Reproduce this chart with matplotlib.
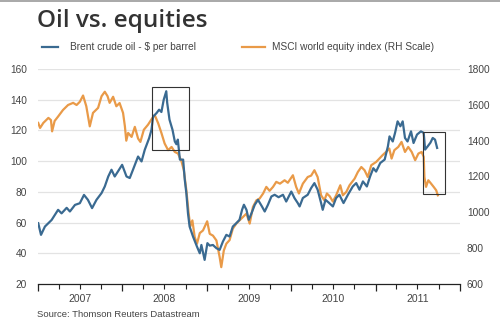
import matplotlib
matplotlib.use("Agg")
import matplotlib.pyplot as plt
import matplotlib.dates as mdates
from matplotlib.patches import Rectangle
from matplotlib.lines import Line2D
import pandas as pd

plt.rcParams['font.family'] = ['Liberation Sans', 'DejaVu Sans']

# Brent crude oil, $ per barrel (left scale)
oil_dates = [
    "2007-01-02", "2007-01-14", "2007-01-31", "2007-03-01", "2007-03-29", "2007-04-13",
    "2007-05-05", "2007-05-19", "2007-06-10", "2007-07-01", "2007-07-19", "2007-08-05",
    "2007-08-23", "2007-09-11", "2007-10-03", "2007-10-17", "2007-11-01", "2007-11-15",
    "2007-11-29", "2007-12-13", "2007-12-31", "2008-01-19", "2008-02-02", "2008-02-16",
    "2008-03-09", "2008-03-24", "2008-04-07", "2008-04-26", "2008-05-06", "2008-05-13",
    "2008-05-28", "2008-06-08", "2008-06-18", "2008-06-28", "2008-07-09", "2008-07-13",
    "2008-07-23", "2008-08-05", "2008-08-15", "2008-08-22", "2008-08-28", "2008-09-06",
    "2008-09-20", "2008-09-27", "2008-10-04", "2008-10-11", "2008-10-18", "2008-11-02",
    "2008-11-19", "2008-12-01", "2008-12-08", "2008-12-22", "2009-01-03", "2009-01-13",
    "2009-01-27", "2009-02-11", "2009-02-25", "2009-03-11", "2009-03-26", "2009-04-09",
    "2009-04-23", "2009-05-08", "2009-05-22", "2009-06-02", "2009-06-10", "2009-06-21",
    "2009-07-01", "2009-07-13", "2009-07-27", "2009-08-10", "2009-08-27", "2009-09-08",
    "2009-09-22", "2009-10-07", "2009-10-21", "2009-11-07", "2009-11-26", "2009-12-10",
    "2010-01-01", "2010-01-15", "2010-01-29", "2010-02-06", "2010-02-20", "2010-03-13",
    "2010-03-28", "2010-04-11", "2010-04-25", "2010-05-10", "2010-05-17", "2010-05-29",
    "2010-06-12", "2010-06-30", "2010-07-14", "2010-07-28", "2010-08-15", "2010-09-03",
    "2010-09-24", "2010-10-09", "2010-10-23", "2010-11-07", "2010-11-24", "2010-12-08",
    "2010-12-22", "2011-01-03", "2011-01-21", "2011-02-09", "2011-02-23", "2011-03-02",
    "2011-03-16", "2011-03-26", "2011-04-06", "2011-04-18", "2011-04-28", "2011-05-08",
    "2011-05-19", "2011-06-03", "2011-06-14", "2011-06-29", "2011-07-16", "2011-07-28",
    "2011-08-03", "2011-08-14", "2011-08-26", "2011-09-05", "2011-09-15", "2011-09-24",
]
oil_price = [
    59.6, 52.0, 57.4, 61.7, 68.3, 66.0,
    69.6, 67.2, 71.5, 72.6, 78.0, 74.8,
    69.4, 74.8, 79.2, 83.5, 90.0, 94.4,
    90.0, 93.3, 97.6, 90.0, 89.0, 94.4,
    103.0, 99.8, 107.4, 115.0, 120.4, 129.0,
    131.3, 133.5, 132.0, 140.0, 145.5, 138.0,
    127.0, 120.4, 112.8, 111.0, 114.0, 101.0,
    101.0, 88.0, 79.0, 66.0, 57.4, 50.8,
    44.3, 40.0, 45.4, 35.7, 46.6, 45.0,
    45.4, 43.3, 42.2, 47.6, 52.0, 50.9,
    57.4, 59.6, 61.8, 68.3, 71.6, 68.3,
    61.8, 66.1, 71.6, 74.8, 70.5, 67.2,
    71.6, 77.0, 78.1, 76.5, 78.1, 73.7,
    80.2, 75.9, 72.7, 70.5, 76.0, 78.1,
    82.5, 85.7, 81.4, 72.7, 68.3, 74.8,
    73.0, 70.5, 76.0, 78.1, 72.7, 78.1,
    83.5, 85.7, 81.4, 86.8, 83.5, 90.0,
    95.4, 93.2, 98.8, 101.0, 109.6, 116.1,
    112.8, 118.4, 125.9, 122.7, 125.9, 115.1,
    112.8, 119.4, 111.8, 117.3, 119.4, 118.4,
    107.5, 109.6, 112.0, 115.1, 114.0, 108.6,
]

# MSCI world equity index (right scale)
msci_dates = [
    "2007-01-02", "2007-01-10", "2007-01-24", "2007-02-15", "2007-02-26", "2007-03-03",
    "2007-03-14", "2007-03-28", "2007-04-19", "2007-05-11", "2007-06-02", "2007-06-17",
    "2007-07-01", "2007-07-15", "2007-07-29", "2007-08-13", "2007-08-27", "2007-09-18",
    "2007-10-03", "2007-10-17", "2007-10-29", "2007-11-07", "2007-11-22", "2007-12-06",
    "2007-12-20", "2008-01-04", "2008-01-12", "2008-01-18", "2008-01-26", "2008-02-10",
    "2008-02-24", "2008-03-09", "2008-03-19", "2008-04-03", "2008-04-21", "2008-05-06",
    "2008-05-20", "2008-06-04", "2008-06-18", "2008-07-02", "2008-07-17", "2008-08-01",
    "2008-08-15", "2008-08-29", "2008-09-13", "2008-09-23", "2008-10-04", "2008-10-14",
    "2008-10-21", "2008-10-30", "2008-11-09", "2008-11-19", "2008-12-01", "2008-12-15",
    "2009-01-02", "2009-01-13", "2009-01-27", "2009-02-11", "2009-02-25", "2009-03-04",
    "2009-03-15", "2009-03-26", "2009-04-09", "2009-04-23", "2009-05-08", "2009-05-22",
    "2009-06-06", "2009-06-21", "2009-07-05", "2009-07-19", "2009-08-03", "2009-08-17",
    "2009-09-01", "2009-09-15", "2009-09-29", "2009-10-14", "2009-10-28", "2009-11-13",
    "2009-12-03", "2009-12-17", "2010-01-08", "2010-01-22", "2010-02-03", "2010-02-20",
    "2010-03-13", "2010-03-28", "2010-04-11", "2010-04-25", "2010-05-10", "2010-05-24",
    "2010-06-04", "2010-06-16", "2010-06-30", "2010-07-14", "2010-08-01", "2010-08-12",
    "2010-08-27", "2010-09-10", "2010-10-02", "2010-10-16", "2010-10-31", "2010-11-14",
    "2010-11-28", "2010-12-13", "2011-01-03", "2011-01-17", "2011-01-31", "2011-02-15",
    "2011-03-01", "2011-03-11", "2011-03-23", "2011-04-09", "2011-04-23", "2011-05-08",
    "2011-05-22", "2011-06-06", "2011-06-21", "2011-07-05", "2011-07-19", "2011-07-28",
    "2011-07-31", "2011-08-07", "2011-08-17", "2011-08-29", "2011-09-09", "2011-09-20",
    "2011-09-27",
]
msci_index = [
    1499, 1471, 1499, 1527, 1515, 1452,
    1510, 1533, 1571, 1599, 1611, 1599,
    1617, 1652, 1592, 1480, 1555, 1583,
    1648, 1673, 1648, 1611, 1645, 1592,
    1610, 1555, 1480, 1400, 1443, 1421,
    1477, 1412, 1393, 1461, 1489, 1519,
    1543, 1497, 1443, 1384, 1347, 1365,
    1337, 1328, 1284, 1235, 1123, 993,
    921, 955, 862, 825, 884, 899,
    950, 880, 870, 843, 750, 694,
    787, 825, 845, 909, 937, 955,
    974, 993, 937, 1030, 1067, 1077,
    1105, 1142, 1120, 1142, 1170, 1160,
    1179, 1165, 1207, 1142, 1105, 1160,
    1197, 1205, 1235, 1197, 1095, 1067,
    1105, 1090, 1060, 1095, 1151, 1095,
    1114, 1151, 1188, 1225, 1253, 1235,
    1197, 1263, 1281, 1300, 1319, 1337,
    1356, 1300, 1347, 1365, 1393, 1337,
    1365, 1337, 1291, 1328, 1337, 1309,
    1197, 1142, 1179, 1160, 1142, 1123,
    1095,
]

# highlighted periods: (start, end, low, high) on the oil scale
boxes = [
    ("2008-05-10", "2008-10-16", 107.3, 148.4),
    ("2011-07-25", "2011-10-26", 78.6, 119.0),
]

years = [2007, 2008, 2009, 2010, 2011]

blue = "#3a6a91"
orange = "#e99a48"
grey = "#444444"

fig = plt.figure(figsize=(5, 3.29), dpi=100)
ax = fig.add_axes([0.076, 0.1368, 0.844, 0.6535])
ax2 = ax.twinx()

od = pd.to_datetime(oil_dates)
md = pd.to_datetime(msci_dates)

ax2.plot(md, msci_index, color=orange, lw=1.6, zorder=2)
ax.plot(od, oil_price, color=blue, lw=1.6, zorder=3)
ax.set_zorder(ax2.get_zorder() + 1)
ax.patch.set_visible(False)

ax.set_xlim(pd.Timestamp("2007-01-01"), pd.Timestamp("2012-01-01"))
ax.set_ylim(20, 160)
ax2.set_ylim(600, 1800)
ax.set_yticks(range(20, 161, 20))
ax2.set_yticks(range(600, 1801, 200))

# grid drawn on the background axes so it sits under both lines
for v in range(40, 161, 20):
    ax2.axhline(600 + (v - 20) * 1200 / 140, color="#e3e3e3", lw=0.9, zorder=0)

for a in (ax, ax2):
    for s in ("top", "left", "right", "bottom"):
        a.spines[s].set_visible(False)
ax.spines["bottom"].set_visible(True)
ax.spines["bottom"].set_color("#222222")
ax.spines["bottom"].set_linewidth(0.9)

ax.tick_params(axis="y", length=0, pad=8, labelsize=7.3, labelcolor=grey)
ax2.tick_params(axis="y", length=0, pad=5, labelsize=7.3, labelcolor=grey)

ax.xaxis.set_major_locator(mdates.YearLocator())
ax.xaxis.set_minor_locator(mdates.MonthLocator(bymonth=[4, 7, 10]))
ax.xaxis.set_major_formatter(plt.NullFormatter())
ax.tick_params(axis="x", which="major", length=5, width=0.9, color="#222222")
ax.tick_params(axis="x", which="minor", length=3.5, width=0.8, color="#222222")
for y in years:
    ax.text(pd.Timestamp(f"{y}-07-01"), -0.045, str(y), transform=ax.get_xaxis_transform(),
            ha="center", va="top", fontsize=7.5, color=grey)

for start, end, lo, hi in boxes:
    x0 = mdates.date2num(pd.Timestamp(start))
    x1 = mdates.date2num(pd.Timestamp(end))
    ax.add_patch(Rectangle((x0, lo), x1 - x0, hi - lo, fill=False,
                           edgecolor="#333333", lw=0.8, zorder=4))

fig.text(0.074, 0.935, "Oil vs. equities", fontsize=17.5, fontweight="semibold",
         family=["Open Sans", "Liberation Sans"], color="#333333", ha="left", va="center")

fig.add_artist(Line2D([0.084, 0.116], [0.857, 0.857], color=blue, lw=1.6))
fig.text(0.14, 0.857, "Brent crude oil - $ per barrel", fontsize=7.3, color=grey,
         ha="left", va="center")
fig.add_artist(Line2D([0.484, 0.53], [0.857, 0.857], color=orange, lw=1.6))
fig.text(0.544, 0.857, "MSCI world equity index (RH Scale)", fontsize=7.3, color=grey,
         ha="left", va="center")

fig.text(0.074, 0.043, "Source: Thomson Reuters Datastream", fontsize=6.8, color=grey,
         ha="left", va="center")

fig.add_artist(Line2D([0, 1], [0.998, 0.998], color="#999999", lw=1.2))

fig.savefig("out.png", dpi=100)
